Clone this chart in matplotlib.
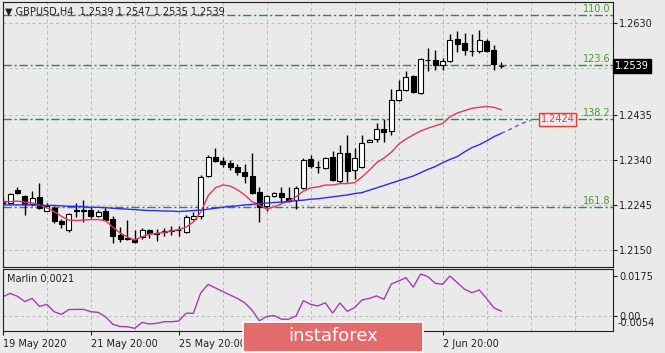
import matplotlib
matplotlib.use("Agg")
from matplotlib import pyplot as plt
from matplotlib.patches import Rectangle
from matplotlib.transforms import blended_transform_factory

# GBPUSD H4 candles (one value per bar)
opens = [1.2254, 1.2250, 1.2278, 1.2265, 1.2248, 1.2263, 1.2234, 1.2240, 1.2212, 1.2193,
         1.2236, 1.2235, 1.2235, 1.2223, 1.2233, 1.2216, 1.2183, 1.2176, 1.2175, 1.2178,
         1.2193, 1.2187, 1.2191, 1.2190, 1.2193, 1.2189, 1.2216, 1.2222, 1.2306, 1.2348,
         1.2339, 1.2335, 1.2327, 1.2316, 1.2306, 1.2274, 1.2244, 1.2264, 1.2271, 1.2261,
         1.2257, 1.2282, 1.2342, 1.2326, 1.2324, 1.2347, 1.2297, 1.2356, 1.2320, 1.2326,
         1.2379, 1.2385, 1.2407, 1.2401, 1.2467, 1.2488, 1.2518, 1.2483, 1.2552, 1.2551,
         1.2541, 1.2549, 1.2596, 1.2587, 1.2571, 1.2572, 1.2592, 1.2573, 1.2539]
highs = [1.2260, 1.2271, 1.2284, 1.2267, 1.2275, 1.2292, 1.2250, 1.2244, 1.2216, 1.2229,
         1.2250, 1.2256, 1.2242, 1.2235, 1.2240, 1.2223, 1.2200, 1.2214, 1.2193, 1.2197,
         1.2195, 1.2196, 1.2198, 1.2201, 1.2201, 1.2225, 1.2230, 1.2309, 1.2351, 1.2366,
         1.2347, 1.2341, 1.2333, 1.2332, 1.2356, 1.2284, 1.2267, 1.2273, 1.2284, 1.2284,
         1.2286, 1.2345, 1.2351, 1.2338, 1.2347, 1.2360, 1.2373, 1.2394, 1.2366, 1.2394,
         1.2386, 1.2419, 1.2427, 1.2491, 1.2510, 1.2528, 1.2520, 1.2556, 1.2577, 1.2573,
         1.2556, 1.2607, 1.2613, 1.2608, 1.2607, 1.2616, 1.2596, 1.2583, 1.2547]
lows = [1.2244, 1.2248, 1.2269, 1.2225, 1.2244, 1.2238, 1.2233, 1.2208, 1.2197, 1.2189,
        1.2221, 1.2210, 1.2219, 1.2221, 1.2212, 1.2166, 1.2168, 1.2172, 1.2166, 1.2174,
        1.2176, 1.2170, 1.2180, 1.2183, 1.2180, 1.2187, 1.2214, 1.2216, 1.2305, 1.2337,
        1.2326, 1.2320, 1.2310, 1.2292, 1.2269, 1.2210, 1.2233, 1.2263, 1.2250, 1.2253,
        1.2238, 1.2280, 1.2324, 1.2313, 1.2322, 1.2297, 1.2292, 1.2295, 1.2300, 1.2324,
        1.2378, 1.2378, 1.2378, 1.2394, 1.2465, 1.2486, 1.2482, 1.2481, 1.2528, 1.2530,
        1.2531, 1.2548, 1.2568, 1.2563, 1.2560, 1.2566, 1.2569, 1.2531, 1.2535]
closes = [1.2250, 1.2269, 1.2271, 1.2248, 1.2261, 1.2240, 1.2244, 1.2211, 1.2206, 1.2227,
          1.2233, 1.2234, 1.2223, 1.2230, 1.2214, 1.2180, 1.2173, 1.2175, 1.2168, 1.2193,
          1.2186, 1.2185, 1.2189, 1.2192, 1.2194, 1.2221, 1.2223, 1.2305, 1.2347, 1.2339,
          1.2332, 1.2325, 1.2315, 1.2306, 1.2272, 1.2242, 1.2265, 1.2271, 1.2262, 1.2255,
          1.2281, 1.2341, 1.2328, 1.2325, 1.2346, 1.2298, 1.2355, 1.2318, 1.2344, 1.2376,
          1.2384, 1.2407, 1.2399, 1.2468, 1.2489, 1.2515, 1.2484, 1.2555, 1.2551, 1.2541,
          1.2550, 1.2595, 1.2585, 1.2573, 1.2570, 1.2594, 1.2571, 1.2544, 1.2539]

# moving averages
ma_fast = [1.2252, 1.2253, 1.2254, 1.2252, 1.2250, 1.2246, 1.2240, 1.2232, 1.2222, 1.2214,
           1.2213, 1.2214, 1.2215, 1.2215, 1.2213, 1.2199, 1.2187, 1.2178, 1.2172, 1.2179,
           1.2184, 1.2186, 1.2188, 1.2191, 1.2194, 1.2199, 1.2210, 1.2231, 1.2265, 1.2282,
           1.2288, 1.2286, 1.2278, 1.2267, 1.2253, 1.2246, 1.2237, 1.2242, 1.2248, 1.2254,
           1.2263, 1.2275, 1.2282, 1.2284, 1.2288, 1.2288, 1.2291, 1.2291, 1.2293, 1.2305,
           1.2319, 1.2335, 1.2345, 1.2357, 1.2374, 1.2385, 1.2394, 1.2402, 1.2408, 1.2413,
           1.2418, 1.2432, 1.2440, 1.2445, 1.2450, 1.2452, 1.2454, 1.2452, 1.2447]
ma_slow = [1.2246, 1.2246, 1.2246, 1.2246, 1.2246, 1.2245, 1.2245, 1.2245, 1.2244, 1.2243,
           1.2243, 1.2242, 1.2241, 1.2241, 1.2240, 1.2239, 1.2238, 1.2237, 1.2236, 1.2235,
           1.2234, 1.2234, 1.2233, 1.2233, 1.2232, 1.2233, 1.2234, 1.2235, 1.2237, 1.2239,
           1.2241, 1.2243, 1.2244, 1.2246, 1.2247, 1.2249, 1.2250, 1.2251, 1.2252, 1.2253,
           1.2255, 1.2256, 1.2258, 1.2259, 1.2261, 1.2263, 1.2265, 1.2267, 1.2270, 1.2272,
           1.2277, 1.2282, 1.2287, 1.2292, 1.2297, 1.2302, 1.2307, 1.2314, 1.2321, 1.2327,
           1.2335, 1.2342, 1.2348, 1.2358, 1.2367, 1.2373, 1.2381, 1.2390, 1.2397]
ma_slow_proj = [1.2404, 1.2412, 1.2419, 1.2424]

# Marlin oscillator
marlin = [0.0084, 0.0099, 0.0086, 0.0063, 0.0077, 0.0042, 0.0051, 0.0019, 0.0007, 0.0028,
          0.0029, 0.0029, 0.0019, 0.0016, -0.0003, -0.0036, -0.0046, -0.0047, -0.0054, -0.0028,
          -0.0035, -0.0032, -0.0025, -0.0025, -0.0022, 0.0012, 0.0012, 0.0101, 0.0138, 0.0123,
          0.0107, 0.0092, 0.0077, 0.0058, 0.0026, -0.0021, -0.0002, 0.0002, -0.0014, -0.0014,
          0.0000, 0.0067, 0.0051, 0.0044, 0.0058, 0.0013, 0.0057, 0.0020, 0.0037, 0.0070,
          0.0077, 0.0088, 0.0073, 0.0140, 0.0153, 0.0168, 0.0126, 0.0184, 0.0172, 0.0143,
          0.0139, 0.0175, 0.0146, 0.0117, 0.0102, 0.0114, 0.0077, 0.0036, 0.0021]

fib_levels = [1.2647, 1.2541, 1.2427, 1.2242]
fib_names = ["110.0", "123.6", "138.2", "161.8"]

price_ticks = [1.2150, 1.2245, 1.2340, 1.2435, 1.2535, 1.2630]
price_labels = ["1.2150", "1.2245", "1.2340", "1.2435", "", "1.2630"]
# labels at 27 May / 29 May sit under the watermark, only their ticks show
time_ticks = [0.03, 12, 24, 36, 48, 60]
time_labels = ["19 May 2020", "21 May 20:00", "25 May 20:00", "", "", "2 Jun 20:00"]

BG = "#eaeaea"
W, H = 665, 353
plt.rcParams["font.family"] = ["DejaVu Sans"]

fig = plt.figure(figsize=(W / 100, H / 100), dpi=100, facecolor=BG)
ax = fig.add_axes([3 / W, 1 - 267 / H, 609.5 / W, 265 / H], facecolor=BG)
ax2 = fig.add_axes([3 / W, 1 - 331 / H, 609.5 / W, 62 / H], facecolor=BG)

x = list(range(len(opens)))
xlim = (0.027, 83.18)

# grid every 6 bars
for a in (ax, ax2):
    for g in range(6, 84, 6):
        a.axvline(g, color="#b8b8b8", lw=0.7, ls=(0, (3, 3)), zorder=0)
    for s in a.spines.values():
        s.set_color("#202020")
        s.set_linewidth(0.8)
    a.set_xlim(*xlim)

for t in price_ticks:
    ax.axhline(t, color="#b8b8b8", lw=0.7, ls=(0, (3, 3)), zorder=0)

# fibo levels
for lv, nm in zip(fib_levels, fib_names):
    ax.axhline(lv, color="#2f8f2f", lw=1.0, ls=(0, (6, 2, 1.5, 2)), zorder=1)
    ax.text(82.9, lv + 0.0002, nm, color="#4a9a2a", fontsize=7, ha="right", va="bottom")

# candles
ax.vlines(x, lows, highs, color="black", lw=1, zorder=2)
bodies = [max(abs(c - o), 0.00003) for o, c in zip(opens, closes)]
bottoms = [min(o, c) for o, c in zip(opens, closes)]
colors = ["white" if c > o else "black" for o, c in zip(opens, closes)]
ax.bar(x, bodies, bottom=bottoms, width=0.68, color=colors, edgecolor="black",
       linewidth=0.8, zorder=3)

# moving averages
ax.plot(x, ma_fast, color="#e8365e", lw=1, zorder=4)
ax.plot(x, ma_slow, color="#2a2aff", lw=1, zorder=4)
ax.plot(range(len(x) - 1, len(x) + len(ma_slow_proj)), [ma_slow[-1]] + ma_slow_proj,
        color="#5a5aff", lw=1, ls=(0, (3, 2.5)), zorder=4)
ax.text(75.7, 1.2427, "1.2424", color="#ff3030", fontsize=7, ha="center", va="center",
        bbox=dict(boxstyle="square,pad=0.15", fc=BG, ec="#ff3030", lw=1), zorder=5)

ax.set_ylim(1.21149, 1.26744)
ax.yaxis.tick_right()
ax.set_yticks(price_ticks)
ax.set_yticklabels(price_labels)
ax.tick_params(axis="y", length=3, pad=2, labelsize=7, colors="#202020")
ax.set_xticks([])

trans = blended_transform_factory(ax.transAxes, ax.transData)
ax.text(1.004, 1.2539, "1.2539", transform=trans, color="white", fontsize=7, va="center",
        ha="left", bbox=dict(boxstyle="square,pad=0.2", fc="black", ec="black"))

# Marlin panel
ax2.axhline(0, color="#b8b8b8", lw=0.7, ls=(0, (3, 3)), zorder=0)
ax2.plot(x, marlin, color="#a63cb4", lw=1)
ax2.set_ylim(-0.00656, 0.02056)
ax2.yaxis.tick_right()
ax2.set_yticks([0.0175, 0.0])
ax2.set_yticklabels(["0.0175", "0.00"])
ax2.tick_params(axis="y", length=3, pad=2, labelsize=7, colors="#202020")
trans2 = blended_transform_factory(ax2.transAxes, ax2.transData)
ax2.text(1.004 + 3 / 609.5, -0.0032, "-0.0054", transform=trans2, fontsize=7,
         va="center", ha="left", color="#202020")
ax2.set_xticks(time_ticks)
ax2.set_xticklabels(time_labels, ha="left")
ax2.tick_params(axis="x", length=3, pad=3, labelsize=7, colors="#202020")

fig.text(5 / W, 1 - 12 / H, "\u25bc GBPUSD,H4  1.2539 1.2547 1.2535 1.2539",
         fontsize=7, va="center", ha="left", color="#202020")
fig.text(7 / W, 1 - 279 / H, "Marlin 0.0021", fontsize=7, va="center", ha="left",
         color="#202020")

# watermark
fig.add_artist(Rectangle((243 / W, 1 / H), 180 / W, 30 / H, transform=fig.transFigure,
                         fc="#e46b6b", ec="white", lw=1.2, zorder=10))
fig.text(333 / W, 1 - 336 / H, "instaforex", color="white", fontsize=13, ha="center",
         va="center", zorder=11)

fig.savefig("out.png", dpi=100, facecolor=BG)
